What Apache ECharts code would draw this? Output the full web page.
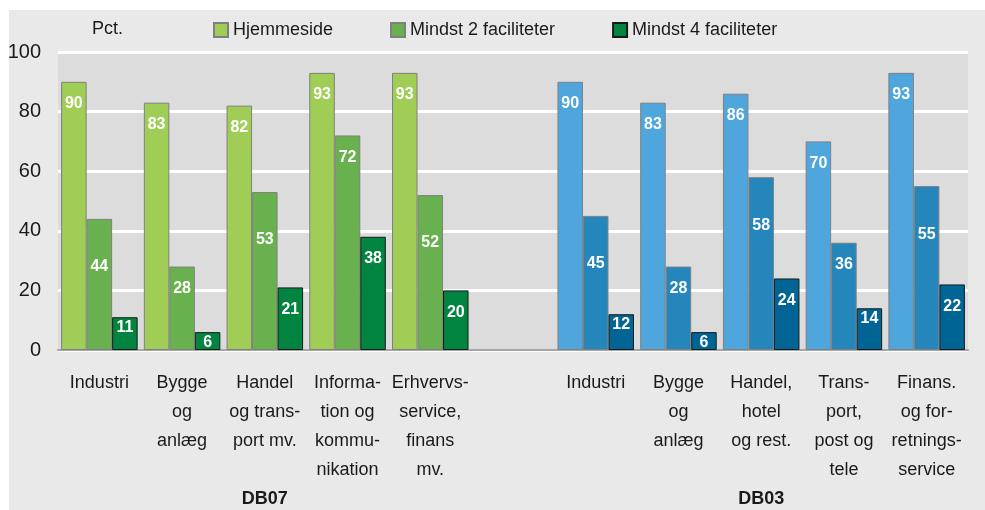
<!DOCTYPE html>
<html>
<head>
<meta charset="utf-8">
<script src="https://cdn.jsdelivr.net/npm/echarts@6/dist/echarts.min.js"></script>
<style>
  html, body { margin: 0; padding: 0; background: #ffffff; }
  #wrap { position: relative; width: 985px; height: 510px; }
  #chart { position: absolute; left: 9px; top: 10px; width: 976px; height: 500px; }
</style>
</head>
<body>
<div id="wrap"><div id="chart"></div></div>
<script>
// kategorier (tom plads mellem DB07 og DB03)
const categories = [
  'Industri', 'Bygge\nog\nanlæg', 'Handel\nog trans-\nport mv.', 'Informa-\ntion og\nkommu-\nnikation', 'Erhvervs-\nservice,\nfinans\nmv.',
  '',
  'Industri', 'Bygge\nog\nanlæg', 'Handel,\nhotel\nog rest.', 'Trans-\nport,\npost og\ntele', 'Finans.\nog for-\nretnings-\nservice'
];
const groupLabels = ['', '', 'DB07', '', '', '', '', '', 'DB03', '', ''];
const seriesNames = ['Hjemmeside', 'Mindst 2 faciliteter', 'Mindst 4 faciliteter'];

const hjemmeside07 = [90, 83, 82, 93, 93];
const mindst2_07 = [44, 28, 53, 72, 52];
const mindst4_07 = [11, 6, 21, 38, 20];

const hjemmeside03 = [90, 83, 86, 70, 93];
const mindst2_03 = [45, 28, 58, 36, 55];
const mindst4_03 = [12, 6, 24, 14, 22];

const yTicks = [0, 20, 40, 60, 80, 100];

const greens = ['#9fcd55', '#69b04f', '#00843f'];
const blues = ['#4ea6dc', '#2486bb', '#006494'];
const borders = ['#808080', '#808080', '#1a1a1a'];

function labelDistance(v, s) {
  if (v < 15) return 0;
  if (s === 1 && v >= 40 && v <= 60) return 38;
  return 12;
}

function buildData(left, right, s) {
  const out = [];
  left.forEach(v => out.push({ value: v, label: { distance: labelDistance(v, s) } }));
  out.push('-');
  right.forEach(v => out.push({
    value: v,
    itemStyle: { color: blues[s] },
    label: { distance: labelDistance(v, s) }
  }));
  return out;
}

const chart = echarts.init(document.getElementById('chart'));
const font = 'Liberation Sans, Arial, sans-serif';

const lists = [
  [hjemmeside07, hjemmeside03],
  [mindst2_07, mindst2_03],
  [mindst4_07, mindst4_03]
];

const option = {
  backgroundColor: '#e9e9e9',
  animation: false,
  textStyle: { fontFamily: font },
  title: {
    text: 'Pct.',
    left: 83, top: 10, padding: 0,
    textStyle: { fontSize: 18, fontWeight: 'normal', color: '#1a1a1a', fontFamily: font }
  },
  legend: {
    left: 204, top: 11, padding: 0,
    itemWidth: 14, itemHeight: 14, itemGap: 57,
    icon: 'rect',
    textStyle: { fontSize: 18, color: '#1a1a1a', fontFamily: font },
    data: seriesNames
  },
  grid: {
    left: 49, right: 17, top: 42, bottom: 160,
    outerBoundsMode: 'none',
    containLabel: false,
    show: true, backgroundColor: '#dcdcdc', borderWidth: 0
  },
  xAxis: [
    {
      type: 'category',
      data: categories,
      axisLine: { lineStyle: { color: '#a6a6a6', width: 2 } },
      axisTick: { show: false },
      axisLabel: {
        interval: 0, margin: 19, fontSize: 18, lineHeight: 29,
        color: '#1a1a1a', fontFamily: font, verticalAlign: 'top'
      }
    },
    {
      type: 'category',
      data: groupLabels,
      position: 'bottom',
      axisLine: { show: false },
      axisTick: { show: false },
      axisLabel: {
        interval: 0, margin: 139, fontSize: 18, lineHeight: 20, fontWeight: 'bold',
        color: '#1a1a1a', fontFamily: font, verticalAlign: 'top'
      }
    }
  ],
  yAxis: {
    type: 'value',
    min: 0, max: 100, interval: 20,
    axisLine: { show: false },
    axisTick: { show: false },
    axisLabel: {
      margin: 17, fontSize: 20, color: '#1a1a1a', fontFamily: font,
      formatter: v => yTicks.includes(v) ? String(v) : ''
    },
    splitLine: { lineStyle: { color: '#ffffff', width: 3 } }
  },
  series: seriesNames.map((name, s) => ({
    name: name,
    type: 'bar',
    barGap: '0%',
    barCategoryGap: '7.5%',
    itemStyle: { color: greens[s], borderColor: borders[s], borderWidth: 1 },
    label: {
      show: true,
      position: 'insideTop',
      color: '#ffffff',
      fontWeight: 'bold',
      fontSize: 16,
      lineHeight: 20,
      fontFamily: font,
      formatter: p => Math.round(p.value)
    },
    data: buildData(lists[s][0], lists[s][1], s)
  }))
};

chart.setOption(option);
</script>
</body>
</html>
